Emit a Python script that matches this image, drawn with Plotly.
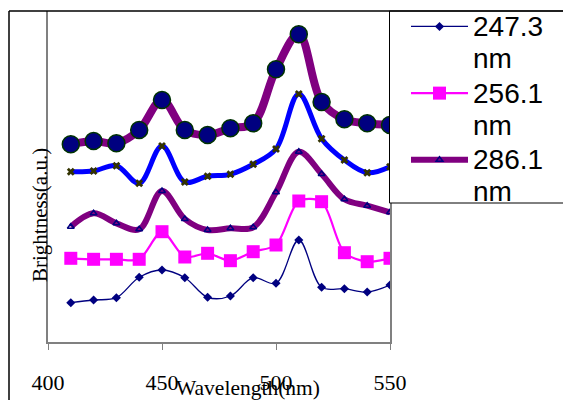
import plotly.graph_objects as go

# ---- data (brightness in arbitrary units) ----
wavelength = [410, 420, 430, 440, 450, 460, 470, 480, 490, 500, 510, 520, 530, 540, 550]
s_247 = [39.3, 42.0, 44.3, 64.7, 72.0, 64.3, 44.7, 46.0, 64.3, 58.7, 102.0, 54.7, 53.3, 50.0, 57.0]
s_256 = [83.7, 82.7, 82.7, 82.7, 110.3, 85.0, 88.7, 81.3, 90.3, 97.0, 141.0, 140.3, 89.3, 80.3, 83.7]
s_286 = [115.3, 128.7, 118.7, 112.7, 151.0, 123.0, 112.0, 113.7, 114.7, 149.7, 190.3, 168.0, 142.7, 136.3, 129.7]
s_blue = [170.3, 171.0, 176.3, 158.7, 196.0, 160.0, 165.7, 167.7, 177.7, 193.0, 248.0, 203.3, 182.0, 169.3, 175.3]
s_top = [197.7, 201.0, 198.7, 212.0, 242.0, 212.0, 207.0, 213.7, 218.7, 272.7, 307.7, 240.0, 222.7, 218.7, 217.0]
x_ticks = [400, 450, 500, 550]
legend_labels = ["247.3", "256.1", "286.1"]

SERIF = "Liberation Serif, Times New Roman, serif"
SANS = "Liberation Sans, Arial, sans-serif"


def leg(label):
    return ('<span style="font-size:28px">' + label + '</span><br>'
            '<span style="font-size:28px">nm</span>')


fig = go.Figure()

fig.add_trace(go.Scatter(
    x=wavelength, y=s_247, name=leg(legend_labels[0]), mode="lines+markers",
    line=dict(color="#000080", width=1.3, shape="spline", smoothing=1),
    marker=dict(symbol="diamond", size=7, color="#000080")))
fig.add_trace(go.Scatter(
    x=wavelength, y=s_256, name=leg(legend_labels[1]), mode="lines+markers",
    line=dict(color="#FF00FF", width=2.2, shape="spline", smoothing=0.8),
    marker=dict(symbol="square", size=13, color="#FF00FF")))
fig.add_trace(go.Scatter(
    x=wavelength, y=s_286, name=leg(legend_labels[2]), mode="lines+markers",
    line=dict(color="#800080", width=6, shape="spline", smoothing=1),
    marker=dict(symbol="triangle-up-open", size=6, color="#000080", line=dict(width=1.5))))
fig.add_trace(go.Scatter(
    x=wavelength, y=s_blue, name="blue", mode="lines+markers", showlegend=False,
    line=dict(color="#0000FF", width=5, shape="spline", smoothing=1),
    marker=dict(symbol="x", size=7, color="#333300")))
fig.add_trace(go.Scatter(
    x=wavelength, y=s_top, name="top", mode="lines+markers", showlegend=False,
    line=dict(color="#800080", width=8, shape="spline", smoothing=1),
    marker=dict(symbol="circle", size=17, color="#000080", line=dict(color="#003300", width=1.5))))

# plot area (pixels): x 48..390, y 11..342
L, R, T, B = 48, 390, 11, 342
W, H = 563, 400
pw, ph = R - L, B - T


def px(x):
    return (x - L) / pw


def py(y):
    return (B - y) / ph


fig.update_layout(
    width=W, height=H,
    margin=dict(l=L, r=W - R, t=T, b=H - B, autoexpand=False),
    paper_bgcolor="white", plot_bgcolor="white",
    showlegend=True,
    legend=dict(
        x=px(406), y=py(4), xanchor="left", yanchor="top",
        bgcolor="rgba(0,0,0,0)", borderwidth=0,
        font=dict(family=SANS, size=24.5, color="black"),
        valign="top", itemwidth=57, tracegroupgap=0, maxheight=390,
    ),
    xaxis=dict(
        range=[400, 550], tickvals=x_ticks, ticktext=[str(v) for v in x_ticks],
        ticks="outside", ticklen=6, tickcolor="#808080", tickwidth=1,
        showline=True, linecolor="#808080", linewidth=2, mirror=False,
        showgrid=False, zeroline=False,
        tickfont=dict(family=SERIF, size=22, color="black"),
        ticklabelstandoff=14,
    ),
    yaxis=dict(
        range=[0, ph], showticklabels=False, ticks="",
        showline=True, linecolor="#808080", linewidth=2, mirror=True,
        showgrid=False, zeroline=False,
    ),
    annotations=[
        dict(text="Wavelength(nm)", xref="paper", yref="paper",
             x=px(248), y=py(388), xanchor="center", yanchor="middle",
             showarrow=False, font=dict(family=SERIF, size=21.5, color="black")),
        dict(text="Brightness(a.u.)", xref="paper", yref="paper",
             x=px(40), y=py(215), xanchor="center", yanchor="middle", textangle=-90,
             showarrow=False, font=dict(family=SERIF, size=21, color="black")),
    ],
    shapes=[
        # legend box
        dict(type="rect", xref="paper", yref="paper", layer="above",
             x0=px(389.5), x1=px(600), y0=py(203), y1=py(11),
             fillcolor="white", line=dict(color="black", width=1)),
        # chart-area border (top and left)
        dict(type="line", xref="paper", yref="paper", x0=px(9), x1=px(600), y0=py(11), y1=py(11),
             line=dict(color="black", width=1.5)),
        dict(type="line", xref="paper", yref="paper", x0=px(9), x1=px(9), y0=py(11), y1=py(405),
             line=dict(color="black", width=1.5)),
    ],
)

# remove the browser's default page margin so the figure sits at the window's corner
fig.write_html("out.html", config={"displayModeBar": False},
               post_script="document.body.style.margin='0';")
